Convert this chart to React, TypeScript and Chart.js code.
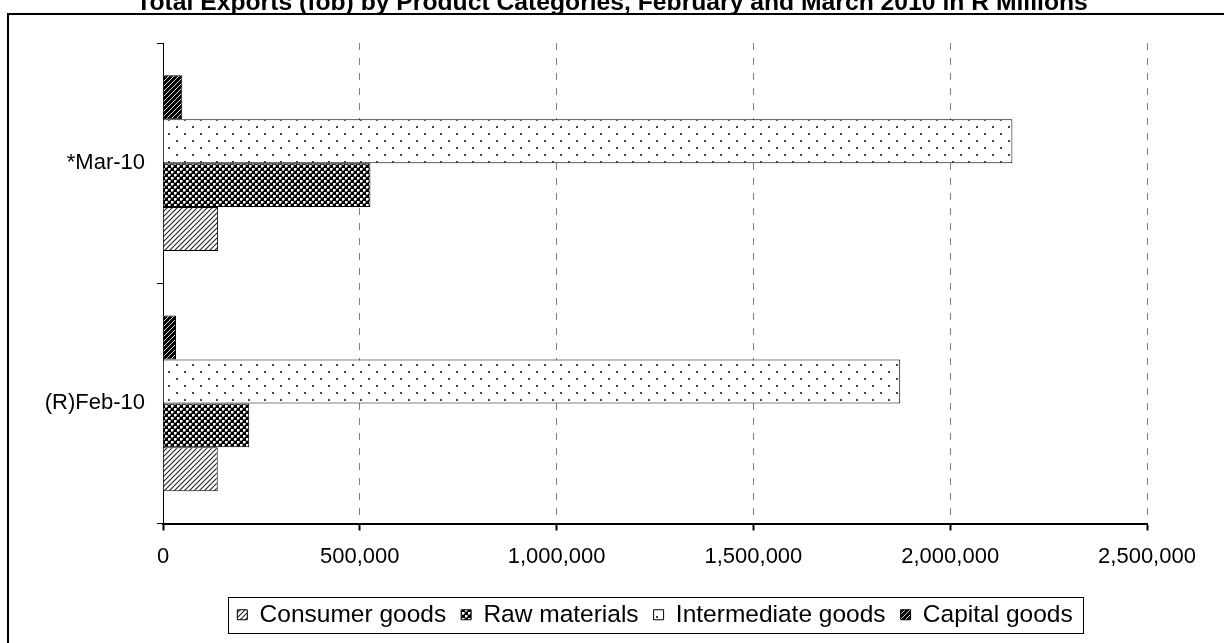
import { useEffect, useRef } from 'react';
import { Chart, registerables } from 'chart.js';

Chart.register(...registerables);

// Categories, top to bottom
const categories = ['*Mar-10', '(R)Feb-10'];

// Series values in R millions, one entry per category
const consumerGoods = [140000, 139000];
const rawMaterials = [527000, 219000];
const intermediateGoods = [2158000, 1873000];
const capitalGoods = [49000, 33000];

const seriesNames = ['Consumer goods', 'Raw materials', 'Intermediate goods', 'Capital goods'];

// Value axis
const axisMin = 0;
const axisMax = 2500000;
const axisStep = 500000;

const chartTitle = 'Total Exports (fob) by Product Categories, February and March 2010 in R Millions';

const FONT = '"Liberation Sans", Arial, sans-serif';

type Painter = (g: CanvasRenderingContext2D, w: number, h: number) => void;

function makePattern(w: number, h: number, paint: Painter): CanvasPattern | string {
  const tile = document.createElement('canvas');
  tile.width = w;
  tile.height = h;
  const g = tile.getContext('2d');
  if (!g) return '#888';
  paint(g, w, h);
  return g.createPattern(tile, 'repeat') ?? '#888';
}

function diagonal(g: CanvasRenderingContext2D, s: number) {
  g.beginPath();
  g.moveTo(-1, 1);
  g.lineTo(1, -1);
  g.moveTo(0, s);
  g.lineTo(s, 0);
  g.moveTo(s - 1, s + 1);
  g.lineTo(s + 1, s - 1);
  g.stroke();
}

function buildPatterns() {
  // light upward diagonal hatch
  const consumer = makePattern(5, 5, (g, w, h) => {
    g.fillStyle = '#ffffff';
    g.fillRect(0, 0, w, h);
    g.strokeStyle = '#222222';
    g.lineWidth = 1.1;
    diagonal(g, 5);
  });
  // checker board, dark cells slightly heavier than light ones
  const raw = makePattern(6, 6, (g, w, h) => {
    g.fillStyle = '#000000';
    g.fillRect(0, 0, w, h);
    g.fillStyle = '#ffffff';
    g.fillRect(0, 0, 2, 2);
    g.fillRect(3, 3, 2, 2);
    g.fillStyle = '#9a9a9a';
    g.fillRect(2, 0, 1, 2);
    g.fillRect(0, 2, 2, 1);
    g.fillRect(5, 3, 1, 2);
    g.fillRect(3, 5, 2, 1);
  });
  // sparse dots
  const intermediate = makePattern(16, 14, (g, w, h) => {
    g.fillStyle = '#ffffff';
    g.fillRect(0, 0, w, h);
    g.fillStyle = '#444444';
    g.fillRect(0, 0, 2, 2);
    g.fillRect(8, 7, 2, 2);
  });
  // dark field with light diagonals
  const capital = makePattern(5, 5, (g, w, h) => {
    g.fillStyle = '#000000';
    g.fillRect(0, 0, w, h);
    g.strokeStyle = '#d8d8d8';
    g.lineWidth = 1;
    diagonal(g, 5);
  });
  return { consumer, raw, intermediate, capital };
}

const framePlugin = {
  id: 'exportFrame',
  beforeDraw(chart: Chart) {
    const { ctx } = chart;
    ctx.save();
    ctx.strokeStyle = '#000000';
    ctx.lineWidth = 2;
    ctx.beginPath();
    ctx.moveTo(8, 700);
    ctx.lineTo(8, 14);
    ctx.lineTo(1300, 14);
    ctx.stroke();
    ctx.restore();
  },
  afterDraw(chart: Chart) {
    const { ctx } = chart;
    ctx.save();
    // chart title
    ctx.fillStyle = '#000000';
    ctx.font = `bold 24.7px ${FONT}`;
    ctx.textAlign = 'center';
    ctx.textBaseline = 'alphabetic';
    ctx.fillText(chartTitle, 612, 9.5);

    // frame around the legend
    const legend: any = chart.legend;
    const boxes: any[] = legend?.legendHitBoxes ?? [];
    if (boxes.length) {
      let left = Infinity;
      let right = -Infinity;
      for (const b of boxes) {
        left = Math.min(left, b.left);
        right = Math.max(right, b.left + b.width);
      }
      const cy = boxes[0].top + boxes[0].height / 2;
      ctx.strokeStyle = '#000000';
      ctx.lineWidth = 1;
      ctx.strokeRect(Math.round(left - 9) + 0.5, Math.round(cy - 18) + 0.5, Math.round(right - left + 20), 36);
    }
    ctx.restore();
  },
};

export default function App() {
  const canvasRef = useRef<HTMLCanvasElement>(null);

  useEffect(() => {
    const canvas = canvasRef.current;
    if (!canvas) return;
    const p = buildPatterns();

    Chart.defaults.font.family = FONT;
    Chart.defaults.color = '#000000';

    const common = { borderColor: '#000000', borderWidth: 1 };

    const chart = new Chart(canvas, {
      type: 'bar',
      data: {
        labels: categories,
        // listed top to bottom within each category; legend is reversed
        datasets: [
          { label: seriesNames[3], data: capitalGoods, backgroundColor: p.capital, ...common },
          { label: seriesNames[2], data: intermediateGoods, backgroundColor: p.intermediate, ...common },
          { label: seriesNames[1], data: rawMaterials, backgroundColor: p.raw, ...common },
          { label: seriesNames[0], data: consumerGoods, backgroundColor: p.consumer, ...common },
        ],
      },
      options: {
        indexAxis: 'y',
        responsive: false,
        animation: false,
        categoryPercentage: 0.732,
        barPercentage: 1,
        layout: { padding: { top: 43, left: 0, right: 77, bottom: 6 } },
        scales: {
          x: {
            min: axisMin,
            max: axisMax,
            afterFit: (scale: any) => {
              scale.height = 64;
            },
            ticks: {
              stepSize: axisStep,
              padding: 13,
              font: { size: 22 },
              color: '#000000',
              callback: (v: any) => Number(v).toLocaleString('en-US'),
            },
            grid: {
              color: (c: any) => (c.index === 0 ? 'rgba(0,0,0,0)' : '#808080'),
              lineWidth: 1,
              tickLength: 7,
              tickColor: '#000000',
              tickWidth: 2,
            },
            border: { display: true, color: '#000000', width: 2, dash: [7, 8] },
          },
          y: {
            afterFit: (scale: any) => {
              scale.width = 163;
            },
            ticks: { padding: 12, font: { size: 22 }, color: '#000000' },
            grid: {
              drawOnChartArea: false,
              tickLength: 6,
              tickColor: '#000000',
              tickWidth: 1,
            },
            border: { display: true, color: '#000000', width: 1 },
          },
        },
        plugins: {
          title: { display: false },
          tooltip: { enabled: false },
          legend: {
            position: 'bottom',
            fullSize: false,
            reverse: true,
            labels: {
              boxWidth: 10,
              boxHeight: 10,
              padding: 15,
              color: '#000000',
              font: { size: 24.5 },
            },
          },
        },
      },
      plugins: [framePlugin],
    } as any);

    return () => chart.destroy();
  }, []);

  return (
    <div style={{ position: 'absolute', left: 0, top: 0, width: 1224, height: 643 }}>
      <canvas ref={canvasRef} width={1224} height={643} style={{ display: 'block' }} />
    </div>
  );
}
